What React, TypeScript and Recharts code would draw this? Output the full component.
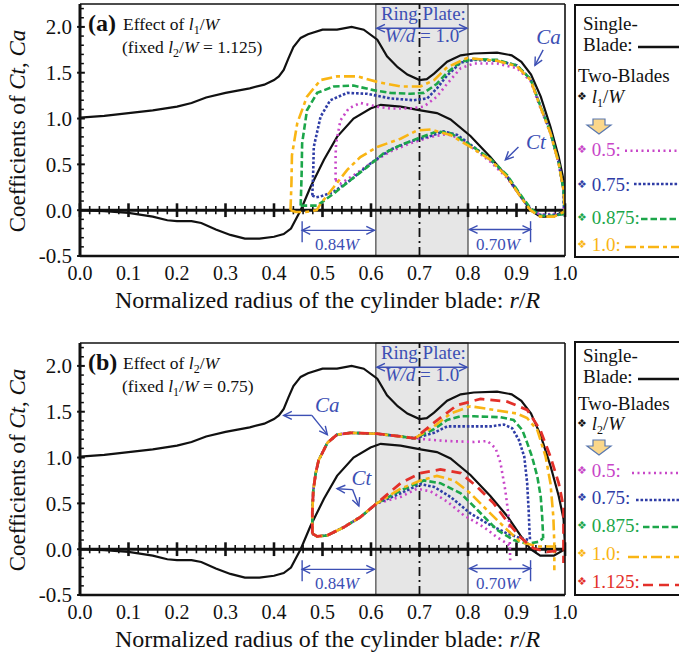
import React from 'react';
import { LineChart, Line, XAxis, YAxis, ReferenceLine, ReferenceArea, ReferenceDot } from 'recharts';

type Pt = [number, number];

// ---------- axis ticks ----------
const X_TICKS = [0, 0.1, 0.2, 0.3, 0.4, 0.5, 0.6, 0.7, 0.8, 0.9, 1.0];
const Y_TICKS = [-0.5, 0, 0.5, 1.0, 1.5, 2.0];
const X_MINOR = Array.from({ length: 51 }, (_, i) => i / 50).filter((_, i) => i % 5 !== 0);
const Y_MINOR = Array.from({ length: 28 }, (_, i) => -0.5 + i / 10).filter((_, i) => i % 5 !== 0);

// ---------- single blade (same in both panels) ----------
const SB_CA: Pt[] = [[0, 1.01], [0.05, 1.03], [0.1, 1.06], [0.15, 1.09], [0.2, 1.13], [0.23, 1.17], [0.26, 1.23], [0.3, 1.28], [0.35, 1.33], [0.38, 1.37], [0.4, 1.42], [0.41, 1.46], [0.42, 1.53], [0.43, 1.66], [0.44, 1.78], [0.455, 1.88], [0.47, 1.92], [0.5, 1.97], [0.53, 1.97], [0.56, 2.0], [0.585, 1.97], [0.613, 1.86], [0.633, 1.68], [0.655, 1.56], [0.675, 1.48], [0.7, 1.42], [0.715, 1.43], [0.73, 1.49], [0.757, 1.62], [0.785, 1.69], [0.812, 1.71], [0.86, 1.72], [0.89, 1.69], [0.91, 1.62], [0.93, 1.48], [0.95, 1.24], [0.97, 0.91], [0.987, 0.58], [0.997, 0.33], [1.0, 0.04]];
const SB_CT: Pt[] = [[0, 0], [0.05, -0.01], [0.1, -0.03], [0.15, -0.07], [0.18, -0.11], [0.2, -0.12], [0.23, -0.12], [0.25, -0.14], [0.28, -0.21], [0.31, -0.27], [0.34, -0.31], [0.37, -0.31], [0.4, -0.29], [0.42, -0.26], [0.435, -0.2], [0.447, -0.08], [0.455, 0.0], [0.475, 0.25], [0.503, 0.55], [0.53, 0.8], [0.564, 1.0], [0.599, 1.11], [0.62, 1.15], [0.661, 1.13], [0.702, 1.09], [0.736, 1.06], [0.764, 0.99], [0.805, 0.81], [0.846, 0.58], [0.881, 0.36], [0.908, 0.15], [0.929, 0.0], [0.949, -0.07], [0.977, -0.07], [1.0, 0.0]];

// ---------- panel (a): effect of l1/W ----------
const A_CA_05: Pt[] = [[0.527, 0.33], [0.527, 0.6], [0.528, 0.73], [0.537, 0.98], [0.554, 1.11], [0.578, 1.17], [0.613, 1.13], [0.64, 1.11], [0.681, 1.11], [0.709, 1.13], [0.736, 1.24], [0.757, 1.38], [0.785, 1.55], [0.812, 1.6], [0.86, 1.6], [0.901, 1.55], [0.929, 1.41], [0.949, 1.12], [0.97, 0.84], [0.987, 0.51], [0.997, 0.22], [0.998, -0.05]];
const A_CT_05: Pt[] = [[0.527, 0.33], [0.532, 0.3], [0.537, 0.29], [0.564, 0.38], [0.599, 0.51], [0.64, 0.64], [0.681, 0.73], [0.723, 0.8], [0.757, 0.83], [0.785, 0.78], [0.812, 0.67], [0.846, 0.53], [0.881, 0.35], [0.908, 0.15], [0.929, 0.01], [0.949, -0.05], [0.977, -0.04], [0.998, -0.05]];
const A_CA_075: Pt[] = [[0.479, 0.16], [0.481, 0.45], [0.482, 0.69], [0.496, 1.02], [0.516, 1.2], [0.551, 1.28], [0.592, 1.27], [0.64, 1.22], [0.688, 1.2], [0.716, 1.22], [0.736, 1.33], [0.757, 1.47], [0.785, 1.61], [0.812, 1.64], [0.86, 1.63], [0.901, 1.58], [0.929, 1.43], [0.949, 1.14], [0.97, 0.85], [0.987, 0.52], [0.997, 0.22], [0.998, -0.04]];
const A_CT_075: Pt[] = [[0.479, 0.16], [0.487, 0.14], [0.496, 0.15], [0.523, 0.2], [0.558, 0.33], [0.599, 0.51], [0.64, 0.66], [0.681, 0.75], [0.723, 0.81], [0.75, 0.86], [0.778, 0.82], [0.812, 0.69], [0.846, 0.55], [0.881, 0.37], [0.908, 0.16], [0.929, 0.01], [0.949, -0.05], [0.977, -0.05], [0.998, -0.04]];
const A_CA_0875: Pt[] = [[0.455, 0.05], [0.457, 0.4], [0.458, 0.73], [0.468, 1.09], [0.489, 1.28], [0.523, 1.35], [0.564, 1.36], [0.605, 1.31], [0.64, 1.28], [0.681, 1.27], [0.709, 1.28], [0.736, 1.38], [0.757, 1.5], [0.785, 1.62], [0.812, 1.65], [0.86, 1.64], [0.901, 1.58], [0.929, 1.43], [0.949, 1.14], [0.97, 0.85], [0.987, 0.52], [0.997, 0.22], [0.999, -0.04]];
const A_CT_0875: Pt[] = [[0.455, 0.05], [0.47, 0.05], [0.489, 0.05], [0.523, 0.18], [0.558, 0.33], [0.592, 0.47], [0.626, 0.62], [0.661, 0.71], [0.695, 0.78], [0.736, 0.86], [0.764, 0.84], [0.805, 0.71], [0.846, 0.56], [0.881, 0.38], [0.908, 0.17], [0.929, 0.02], [0.949, -0.06], [0.977, -0.06], [0.999, -0.04]];
const A_CA_10: Pt[] = [[0.434, 0.0], [0.436, 0.3], [0.437, 0.6], [0.448, 0.95], [0.468, 1.24], [0.496, 1.42], [0.53, 1.46], [0.572, 1.46], [0.613, 1.4], [0.661, 1.35], [0.702, 1.35], [0.73, 1.42], [0.757, 1.56], [0.798, 1.66], [0.86, 1.63], [0.901, 1.57], [0.929, 1.42], [0.949, 1.13], [0.97, 0.84], [0.987, 0.51], [0.997, 0.22], [1.0, -0.03]];
const A_CT_10: Pt[] = [[0.434, 0.0], [0.445, -0.02], [0.465, -0.02], [0.488, 0.0], [0.496, 0.07], [0.523, 0.25], [0.551, 0.44], [0.578, 0.58], [0.613, 0.69], [0.661, 0.78], [0.695, 0.87], [0.723, 0.88], [0.764, 0.82], [0.805, 0.69], [0.846, 0.55], [0.881, 0.36], [0.908, 0.15], [0.929, 0.0], [0.949, -0.07], [0.977, -0.07], [0.997, -0.02]];

// ---------- panel (b): effect of l2/W ----------
const B_CA_START: Pt[] = [[0.479, 0.17], [0.479, 0.4], [0.481, 0.64], [0.486, 0.83], [0.492, 0.97], [0.51, 1.16], [0.53, 1.25], [0.558, 1.27], [0.612, 1.26], [0.661, 1.23], [0.69, 1.21]];
const B_CT_START: Pt[] = [[0.479, 0.17], [0.489, 0.14], [0.51, 0.15], [0.544, 0.24], [0.578, 0.35], [0.612, 0.5]];
const B_CA_05: Pt[] = [[0.709, 1.2], [0.757, 1.18], [0.812, 1.17], [0.84, 1.18], [0.857, 1.1], [0.867, 0.94], [0.877, 0.64], [0.884, 0.35], [0.886, 0.13], [0.887, -0.12]];
const B_CT_05: Pt[] = [[0.661, 0.57], [0.695, 0.66], [0.723, 0.63], [0.757, 0.52], [0.791, 0.37], [0.833, 0.24], [0.86, 0.13], [0.881, 0.06], [0.887, 0.03]];
const B_CA_075: Pt[] = [[0.73, 1.27], [0.757, 1.34], [0.805, 1.34], [0.846, 1.34], [0.874, 1.36], [0.891, 1.32], [0.905, 1.19], [0.916, 1.01], [0.922, 0.72], [0.925, 0.43], [0.927, 0.17], [0.928, 0.1]];
const B_CT_075: Pt[] = [[0.661, 0.61], [0.702, 0.71], [0.73, 0.68], [0.764, 0.57], [0.805, 0.39], [0.84, 0.28], [0.881, 0.17], [0.908, 0.12], [0.928, 0.1]];
const B_CA_0875: Pt[] = [[0.73, 1.31], [0.757, 1.41], [0.785, 1.45], [0.812, 1.45], [0.867, 1.44], [0.894, 1.41], [0.912, 1.3], [0.922, 1.16], [0.932, 1.01], [0.943, 0.79], [0.95, 0.57], [0.953, 0.35], [0.955, 0.12]];
const B_CT_0875: Pt[] = [[0.661, 0.64], [0.709, 0.75], [0.743, 0.72], [0.785, 0.61], [0.819, 0.43], [0.86, 0.21], [0.894, 0.1], [0.922, 0.06], [0.945, 0.08], [0.955, 0.12]];
const B_CA_10: Pt[] = [[0.73, 1.34], [0.764, 1.48], [0.805, 1.56], [0.853, 1.52], [0.901, 1.48], [0.922, 1.43], [0.943, 1.3], [0.96, 1.01], [0.97, 0.72], [0.976, 0.35], [0.978, 0.06], [0.978, -0.23]];
const B_CT_10: Pt[] = [[0.661, 0.66], [0.702, 0.75], [0.736, 0.8], [0.771, 0.75], [0.805, 0.61], [0.846, 0.39], [0.881, 0.21], [0.908, 0.08], [0.943, 0.03], [0.978, 0.03]];
const B_CA_1125: Pt[] = [[0.73, 1.38], [0.777, 1.57], [0.826, 1.64], [0.881, 1.61], [0.922, 1.52], [0.949, 1.3], [0.97, 1.01], [0.987, 0.72], [0.997, 0.46], [0.997, 0.21], [0.997, -0.15]];
const B_CT_1125: Pt[] = [[0.661, 0.72], [0.702, 0.83], [0.743, 0.87], [0.785, 0.83], [0.819, 0.68], [0.853, 0.5], [0.881, 0.3], [0.908, 0.13], [0.935, 0.01], [0.963, -0.03], [0.997, -0.01]];

const LEG_A_LABELS = ['0.5', '0.75', '0.875', '1.0'];
const LEG_B_LABELS = ['0.5', '0.75', '0.875', '1.0', '1.125'];

// ---------- styles ----------
const FONT = '"Liberation Serif", "Times New Roman", serif';
const ANN = '#3c4fb4';
const BLACK = '#111111';
const ST = {
  m: { color: '#c846c8', dash: '2 3.5', width: 2.6 },
  b: { color: '#2f3da6', dash: '2.6 1.9', width: 2.6 },
  g: { color: '#1ca64a', dash: '6.5 3', width: 2.6 },
  y: { color: '#f9b514', dash: '11 4 4 4', width: 2.6 },
  r: { color: '#e3302a', dash: '10 6', width: 2.8 },
};

const rows = (pts: Pt[]) => pts.map(([x, y]) => ({ x, y }));

type SeriesDef = { key: string; ca: Pt[]; ct: Pt[]; st: { color: string; dash: string; width: number } };

const SERIES_A: SeriesDef[] = [
  { key: 'a05', ca: A_CA_05, ct: A_CT_05, st: ST.m },
  { key: 'a075', ca: A_CA_075, ct: A_CT_075, st: ST.b },
  { key: 'a0875', ca: A_CA_0875, ct: A_CT_0875, st: ST.g },
  { key: 'a10', ca: A_CA_10, ct: A_CT_10, st: ST.y },
];
const SERIES_B: SeriesDef[] = [
  { key: 'b05', ca: [...B_CA_START, ...B_CA_05], ct: [...B_CT_START, ...B_CT_05], st: ST.m },
  { key: 'b075', ca: [...B_CA_START, ...B_CA_075], ct: [...B_CT_START, ...B_CT_075], st: ST.b },
  { key: 'b0875', ca: [...B_CA_START, ...B_CA_0875], ct: [...B_CT_START, ...B_CT_0875], st: ST.g },
  { key: 'b10', ca: [...B_CA_START, ...B_CA_10], ct: [...B_CT_START, ...B_CT_10], st: ST.y },
  { key: 'b1125', ca: [...B_CA_START, ...B_CA_1125], ct: [...B_CT_START, ...B_CT_1125], st: ST.r },
];

const vHead = (x: number, y: number, ang: number, color: string) => {
  const L = 9, a = 0.45;
  const p1 = [x - L * Math.cos(ang - a), y - L * Math.sin(ang - a)];
  const p2 = [x - L * Math.cos(ang + a), y - L * Math.sin(ang + a)];
  return <polyline points={`${p1[0]},${p1[1]} ${x},${y} ${p2[0]},${p2[1]}`} fill="none" stroke={color} strokeWidth={1.4} />;
};

const arrowShape = (h1: boolean, h2: boolean) => (p: any) => {
  const { x1, y1, x2, y2 } = p;
  const ang = Math.atan2(y2 - y1, x2 - x1);
  return (
    <g>
      <line x1={x1} y1={y1} x2={x2} y2={y2} stroke={ANN} strokeWidth={1.4} />
      {h1 ? vHead(x1, y1, ang + Math.PI, ANN) : null}
      {h2 ? vHead(x2, y2, ang, ANN) : null}
    </g>
  );
};

const arrow = (key: string, a: Pt, b: Pt, h1: boolean, h2: boolean) => (
  <ReferenceLine key={key} segment={[{ x: a[0], y: a[1] }, { x: b[0], y: b[1] }]} ifOverflow="visible" shape={arrowShape(h1, h2)} />
);

const label = (key: string, x: number, y: number, content: React.ReactNode, size: number, anchor: string = 'middle') => (
  <ReferenceDot key={key} x={x} y={y} r={1} ifOverflow="visible"
    shape={(p: any) => (
      <text x={p.cx} y={p.cy} textAnchor={anchor} fontSize={size} fill={ANN} fontFamily={FONT}>{content}</text>
    )} />
);

const it = (s: string) => <tspan fontStyle="italic">{s}</tspan>;

const commonAnnotations = (p: string) => [
  label(p + 'rp1', 0.708, 2.08, 'Ring Plate:', 19),
  label(p + 'rp2', 0.705, 1.83, <>{it('W/d')} = 1.0</>, 19),
  arrow(p + 'rpa', [0.612, 1.985], [0.798, 1.985], true, true),
  arrow(p + 'w84', [0.458, -0.22], [0.607, -0.22], true, true),
  arrow(p + 'w84b', [0.458, -0.12], [0.458, -0.35], false, false),
  label(p + 'w84t', 0.53, -0.43, <>0.84{it('W')}</>, 17),
  arrow(p + 'w70', [0.803, -0.21], [0.929, -0.21], true, true),
  arrow(p + 'w70b', [0.929, -0.12], [0.929, -0.35], false, false),
  label(p + 'w70t', 0.862, -0.43, <>0.70{it('W')}</>, 17),
];

const annA = [
  ...commonAnnotations('a'),
  label('aCa', 0.966, 1.81, it('Ca'), 21),
  arrow('aCaA', [0.955, 1.75], [0.938, 1.58], false, true),
  label('aCt', 0.94, 0.67, it('Ct'), 21),
  arrow('aCtA', [0.904, 0.69], [0.877, 0.55], false, true),
];
const annB = [
  ...commonAnnotations('b'),
  label('bCa', 0.51, 1.5, it('Ca'), 21),
  arrow('bCaA1', [0.478, 1.46], [0.42, 1.46], false, true),
  arrow('bCaA2', [0.478, 1.46], [0.51, 1.25], false, true),
  label('bCt', 0.58, 0.7, it('Ct'), 21),
  arrow('bCtA1', [0.562, 0.65], [0.53, 0.66], false, true),
  arrow('bCtA2', [0.562, 0.65], [0.575, 0.47], false, true),
];

type LegPos = { ty: number; ly: number; lx: number };
const LEG_A_POS: LegPos[] = [{ ty: 156, ly: 150.7, lx: 625 }, { ty: 190.7, ly: 184, lx: 634 }, { ty: 224, ly: 219, lx: 641 }, { ty: 250.7, ly: 247, lx: 625 }];
const LEG_B_POS: LegPos[] = [{ ty: 138, ly: 134, lx: 632 }, { ty: 165, ly: 161, lx: 636 }, { ty: 193, ly: 188, lx: 643 }, { ty: 221, ly: 218, lx: 628 }, { ty: 249, ly: 246, lx: 643 }];

function Overlay(props: { tag: string; param: string; fixedParam: string; fixedVal: string; labels: string[]; styles: SeriesDef[]; pos: LegPos[]; hdr: number[]; box: number[] }) {
  const { tag, param, fixedParam, fixedVal, labels, styles, pos, hdr, box } = props;
  const sub = (n: string) => (
    <>
      {it('l')}<tspan fontSize="12" dy="4">{n}</tspan><tspan dy="-4">/</tspan>{it('W')}
    </>
  );
  return (
    <svg width={679} height={340} style={{ position: 'absolute', left: 0, top: 0, pointerEvents: 'none' }} fontFamily={FONT}>
      <text x={88} y={31} fontSize={24} fontWeight="bold" fill="#111">({tag})</text>
      <text x={123} y={30} fontSize={17.5} fill="#111">Effect of {sub(param)}</text>
      <text x={122} y={53} fontSize={17.5} fill="#111">(fixed {sub(fixedParam)} = {fixedVal})</text>
      <rect x={575} y={box[0]} width={120} height={box[1] - box[0]} fill="#fff" stroke="#111" strokeWidth={2} />
      <text x={583} y={hdr[0]} fontSize={19} fill="#111">Single-</text>
      <text x={583} y={hdr[1]} fontSize={19} fill="#111">Blade:</text>
      <line x1={638} x2={679} y1={hdr[1] - 4} y2={hdr[1] - 4} stroke={BLACK} strokeWidth={2.4} />
      <text x={578} y={hdr[2]} fontSize={19} fill="#111">Two-Blades</text>
      <text x={577} y={hdr[3]} fontSize={19} fill="#111"><tspan fontSize={11} fontFamily="DejaVu Sans" dy="-3">❖</tspan><tspan dy="3"> </tspan>{sub(param)}</text>
      <polygon points={`593,${hdr[4]} 605,${hdr[4]} 605,${hdr[4] + 6} 611,${hdr[4] + 6} 599,${hdr[4] + 15} 587,${hdr[4] + 6} 593,${hdr[4] + 6}`} fill="#fbd78a" stroke="#5a78b0" strokeWidth={1.2} />
      {labels.map((lab, i) => (
        <g key={lab}>
          <text x={577} y={pos[i].ty} fontSize={19} fill={styles[i].st.color}>
            <tspan fontSize={11} fontFamily="DejaVu Sans" dy="-3">❖</tspan><tspan dy="3"> {lab}:</tspan>
          </text>
          <line x1={pos[i].lx} x2={679} y1={pos[i].ly} y2={pos[i].ly} stroke={styles[i].st.color} strokeWidth={2.6} strokeDasharray={styles[i].st.dash} />
        </g>
      ))}
    </svg>
  );
}

function Panel(props: { top: number; series: SeriesDef[]; ann: React.ReactNode[]; overlay: React.ReactNode }) {
  const { top, series, ann, overlay } = props;
  return (
    <div style={{ position: 'absolute', left: 0, top, width: 679, height: 330 }}>
      <LineChart width={679} height={330} margin={{ top: 4, right: 114, bottom: 0, left: 0 }}>
        <XAxis dataKey="x" type="number" domain={[0, 1]} ticks={X_TICKS} interval={0} allowDataOverflow
          tickFormatter={(v: number) => v.toFixed(1)} tickLine={false} tickMargin={4} height={74}
          axisLine={{ stroke: '#111', strokeWidth: 2.5 }}
          tick={{ fontSize: 20, fill: '#111', fontFamily: FONT }}
          label={{
            content: (p: any) => {
              const vb = p.viewBox || { x: 80, y: 256, width: 485 };
              return (
                <text x={vb.x + vb.width / 2 + 5} y={vb.y + 52} textAnchor="middle" fontSize={24} fill="#111" fontFamily={FONT}>
                  Normalized radius of the cylinder blade: {it('r')}/{it('R')}
                </text>
              );
            },
          }} />
        <YAxis type="number" domain={[-0.5, 2.25]} ticks={Y_TICKS} interval={0} allowDataOverflow width={80}
          tickFormatter={(v: number) => v.toFixed(1)} tickLine={false}
          axisLine={{ stroke: '#111', strokeWidth: 3 }}
          tick={{ fontSize: 21, fill: '#111', fontFamily: FONT }}
          label={{
            content: () => (
              <text x={25} y={131} transform="rotate(-90 25 131)" textAnchor="middle" fontSize={23} fill="#111" fontFamily={FONT}>
                Coefficients of {it('Ct')}, {it('Ca')}
              </text>
            ),
          }} />
        <ReferenceArea x1={0.61} x2={0.8} fill="#e6e6e6" fillOpacity={1} stroke="#444" strokeWidth={1.2} ifOverflow="visible" />
        <ReferenceLine x={0.7} stroke="#111" strokeWidth={1.8} strokeDasharray="9 4 2 4" />
        {X_TICKS.map((v) => (
          <ReferenceLine key={'xM' + v} segment={[{ x: v, y: -0.075 }, { x: v, y: 0.075 }]} stroke="#111" strokeWidth={2.6} ifOverflow="visible" />
        ))}
        {X_MINOR.map((v) => (
          <ReferenceLine key={'xm' + v} segment={[{ x: v, y: -0.045 }, { x: v, y: 0.045 }]} stroke="#111" strokeWidth={1.6} ifOverflow="visible" />
        ))}
        {Y_TICKS.map((v) => (
          <ReferenceLine key={'yM' + v} segment={[{ x: -0.006, y: v }, { x: 0.01, y: v }]} stroke="#111" strokeWidth={2} ifOverflow="visible" />
        ))}
        {Y_MINOR.map((v) => (
          <ReferenceLine key={'ym' + v} segment={[{ x: 0, y: v }, { x: 0.008, y: v }]} stroke="#111" strokeWidth={1.5} ifOverflow="visible" />
        ))}
        <ReferenceLine y={0} stroke="#111" strokeWidth={3} />
        <Line data={rows(SB_CA)} dataKey="y" type="linear" stroke={BLACK} strokeWidth={2.2} dot={false} activeDot={false} isAnimationActive={false} />
        <Line data={rows(SB_CT)} dataKey="y" type="linear" stroke={BLACK} strokeWidth={2.2} dot={false} activeDot={false} isAnimationActive={false} />
        {series.flatMap((s) => [s.ca, s.ct].map((pts, i) => (
          <Line key={s.key + i} data={rows(pts)} dataKey="y" type="linear" stroke={s.st.color} strokeWidth={s.st.width}
            strokeDasharray={s.st.dash} dot={false} activeDot={false} isAnimationActive={false} />
        )))}
        {ann}
        <ReferenceLine y={2.25} stroke="#111" strokeWidth={1.6} ifOverflow="visible" />
        <ReferenceLine x={1} stroke="#111" strokeWidth={1.6} ifOverflow="visible" />
      </LineChart>
      {overlay}
    </div>
  );
}

export default function App() {
  return (
    <div style={{ position: 'absolute', left: 0, top: 0, width: 679, height: 659, background: '#fff', overflow: 'hidden' }}>
      <Panel top={0} series={SERIES_A} ann={annA}
        overlay={<Overlay tag="a" param="1" fixedParam="2" fixedVal="1.125" labels={LEG_A_LABELS} styles={SERIES_A} pos={LEG_A_POS}
          hdr={[30, 51, 82, 103, 119]} box={[5, 257]} />} />
      <Panel top={339} series={SERIES_B} ann={annB}
        overlay={<Overlay tag="b" param="2" fixedParam="1" fixedVal="0.75" labels={LEG_B_LABELS} styles={SERIES_B} pos={LEG_B_POS}
          hdr={[23, 44, 71, 91, 101]} box={[3, 256]} />} />
    </div>
  );
}
